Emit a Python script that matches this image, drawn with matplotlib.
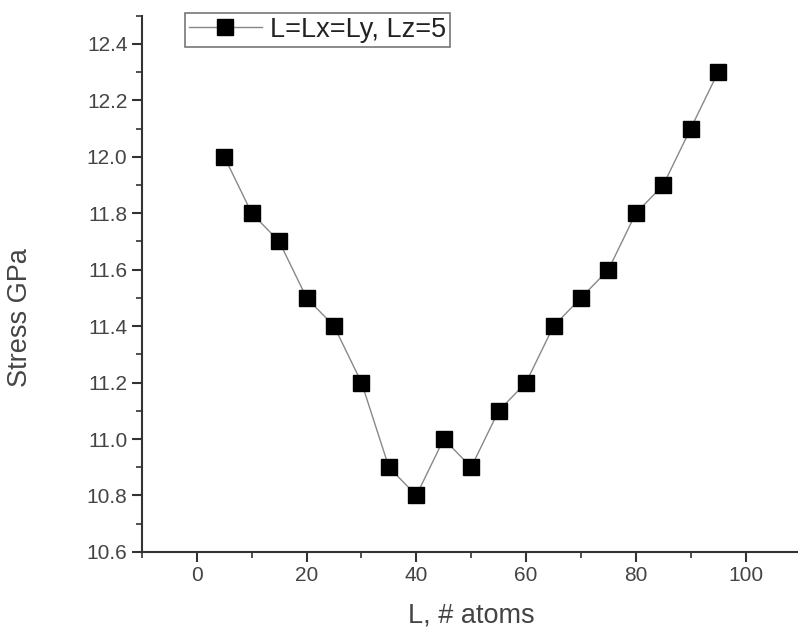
import matplotlib
matplotlib.use('Agg')
import matplotlib.pyplot as plt
from matplotlib.ticker import MultipleLocator

L = [5, 10, 15, 20, 25, 30, 35, 40, 45, 50, 55, 60, 65, 70, 75, 80, 85, 90, 95]
stress = [12.0, 11.8, 11.7, 11.5, 11.4, 11.2, 10.9, 10.8, 11.0, 10.9,
          11.1, 11.2, 11.4, 11.5, 11.6, 11.8, 11.9, 12.1, 12.3]

plt.rcParams['font.family'] = ['Liberation Sans', 'DejaVu Sans']

fig = plt.figure(figsize=(7.98, 6.3), dpi=100)
ax = fig.add_axes([0.178, 0.124, 0.825, 0.851])

ax.plot(L, stress, '-s', color='#888888', linewidth=1.0,
        markerfacecolor='black', markeredgecolor='black', markersize=11,
        label='L=Lx=Ly, Lz=5')

ax.set_xlim(-10, 110)
ax.set_ylim(10.6, 12.5)
ax.xaxis.set_major_locator(MultipleLocator(20))
ax.xaxis.set_minor_locator(MultipleLocator(10))
ax.yaxis.set_major_locator(MultipleLocator(0.2))
ax.yaxis.set_minor_locator(MultipleLocator(0.1))
ax.yaxis.set_major_formatter(matplotlib.ticker.FormatStrFormatter('%.1f'))

for s in ['top', 'right']:
    ax.spines[s].set_visible(False)
for s in ['left', 'bottom']:
    ax.spines[s].set_color('#333333')
    ax.spines[s].set_linewidth(1.5)

ax.tick_params(which='major', direction='out', length=7, width=1.5,
               colors='#333333', labelsize=15, labelcolor='#444444')
ax.tick_params(which='minor', direction='out', length=4, width=1.2, colors='#333333')

ax.set_xlabel('L, # atoms', fontsize=19.5, color='#444444', labelpad=12)
ax.set_ylabel('Stress GPa', fontsize=19.5, color='#444444')
ax.yaxis.set_label_coords(-0.166, 0.437)

leg = ax.legend(loc='upper left', bbox_to_anchor=(0.065, 1.006), fontsize=19.5,
                frameon=True, fancybox=False, edgecolor='#555555',
                handlelength=2.7, handletextpad=0.3, borderpad=0.15,
                borderaxespad=0, labelcolor='#222222')
leg.get_frame().set_linewidth(1.2)

fig.savefig('out.png', dpi=100)
